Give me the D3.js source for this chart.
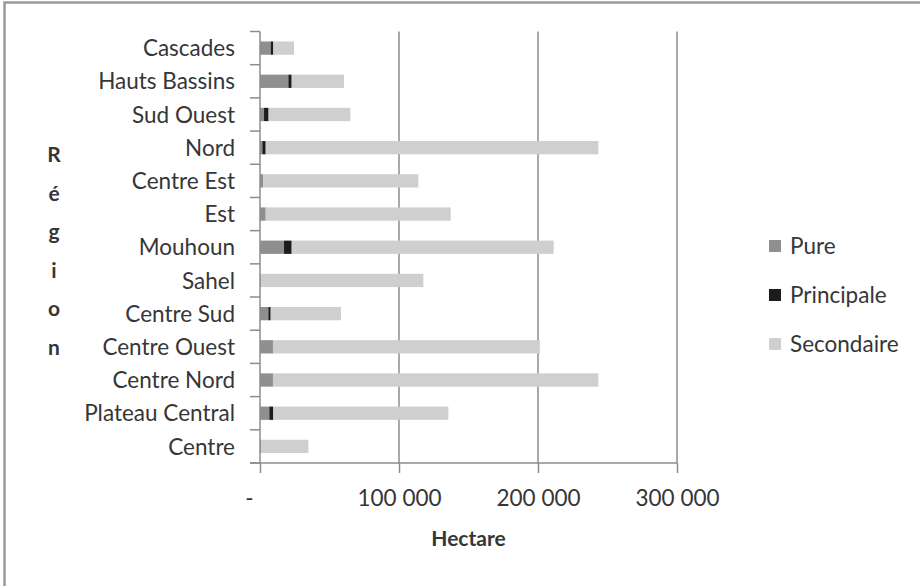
<!DOCTYPE html>
<html>
<head>
<meta charset="utf-8">
<script src="https://cdn.jsdelivr.net/npm/d3@7"></script>
<style>
  html, body { margin: 0; padding: 0; background: #fff; }
  svg { display: block; font-family: Lato, "Open Sans", sans-serif; }
</style>
</head>
<body>
<svg id="chart" width="920" height="586"></svg>
<script>
// Regions, listed top to bottom
const regions = ["Cascades", "Hauts Bassins", "Sud Ouest", "Nord", "Centre Est", "Est",
  "Mouhoun", "Sahel", "Centre Sud", "Centre Ouest", "Centre Nord", "Plateau Central", "Centre"];

// Area (ha) per cultivation type
const pure       = [7700, 20400, 2900, 1700, 2400, 4100, 17300, 500, 6000, 8900, 8900, 6700, 700];
const principale = [1900, 2400, 3300, 2400, 0, 0, 5500, 0, 1700, 300, 300, 2900, 0];
const secondaire = [14900, 37600, 58800, 239300, 111500, 133100, 188500, 117000, 50600, 192100, 234200, 125900, 34100];

const seriesNames = ["Pure", "Principale", "Secondaire"];
const seriesColors = ["#8f8f8f", "#1c1c1c", "#cfcfcf"];
const xTicks = [0, 100000, 200000, 300000];
const xTickLabels = ["-", "100 000", "200 000", "300 000"];

const rows = regions.map((r, i) => ({
  region: r, Pure: pure[i], Principale: principale[i], Secondaire: secondaire[i]
}));

const svg = d3.select("#chart");
const textColor = "#363636";
const gridColor = "#8c8c8c";
const fontSize = 22.5;

// outer frame (left and top edges)
svg.append("path")
  .attr("d", "M4.5,586 L4.5,2.5 L920,2.5")
  .attr("fill", "none").attr("stroke", "#9a9a9a").attr("stroke-width", 2.5);

const plot = { left: 260, right: 677, top: 31.5, bottom: 463 };

const x = d3.scaleLinear().domain([0, 300000]).range([plot.left, plot.right]);
const y = d3.scaleBand().domain(regions).range([plot.top, plot.bottom]).paddingInner(0.6).paddingOuter(0.3);
const yTicks = d3.scaleBand().domain(regions).range([plot.top, plot.bottom]);

// vertical gridlines
svg.append("g").selectAll("line")
  .data(xTicks.slice(1))
  .join("line")
  .attr("x1", d => x(d)).attr("x2", d => x(d))
  .attr("y1", plot.top).attr("y2", plot.bottom)
  .attr("stroke", gridColor).attr("stroke-width", 1.5);

// stacked bars
const stack = d3.stack().keys(seriesNames)(rows);
svg.append("g").selectAll("g")
  .data(stack)
  .join("g")
  .attr("fill", (d, i) => seriesColors[i])
  .selectAll("rect")
  .data(d => d)
  .join("rect")
  .attr("x", d => x(d[0]))
  .attr("width", d => Math.max(0, x(d[1]) - x(d[0])))
  .attr("y", d => y(d.data.region))
  .attr("height", y.bandwidth());

// y axis: line with category tick marks between bands
const yAxis = svg.append("g");
yAxis.append("line")
  .attr("x1", plot.left).attr("x2", plot.left)
  .attr("y1", plot.top).attr("y2", plot.bottom)
  .attr("stroke", gridColor).attr("stroke-width", 1.5);
const bounds = regions.map(r => yTicks(r)).concat([plot.bottom]);
yAxis.selectAll("line.tick")
  .data(bounds)
  .join("line")
  .attr("class", "tick")
  .attr("x1", plot.left - 10).attr("x2", plot.left)
  .attr("y1", d => d).attr("y2", d => d)
  .attr("stroke", gridColor).attr("stroke-width", 1.5);
yAxis.selectAll("text")
  .data(regions)
  .join("text")
  .attr("x", 235)
  .attr("y", d => yTicks(d) + yTicks.bandwidth() / 2)
  .attr("dy", "0.36em")
  .attr("text-anchor", "end")
  .attr("font-size", fontSize)
  .attr("fill", textColor)
  .text(d => d);

// x axis
const xAxis = svg.append("g").attr("transform", `translate(0,${plot.bottom})`)
  .call(d3.axisBottom(x).tickValues(xTicks).tickSize(10).tickSizeOuter(0)
    .tickFormat((d, i) => xTickLabels[i]));
xAxis.select(".domain").attr("d", `M${plot.left - 10},0H${plot.right}`)
  .attr("stroke", gridColor).attr("stroke-width", 1.5);
xAxis.selectAll(".tick line").attr("stroke", gridColor).attr("stroke-width", 1.5);
xAxis.selectAll(".tick text")
  .attr("font-size", fontSize).attr("font-family", "Lato, sans-serif")
  .attr("fill", textColor).attr("y", 27).attr("dy", "0.71em");
xAxis.selectAll(".tick text").filter((d, i) => i === 0).attr("dx", -11);

// axis titles
svg.append("text")
  .attr("x", (plot.left + plot.right) / 2).attr("y", 546)
  .attr("text-anchor", "middle")
  .attr("font-size", 21).attr("font-weight", "bold").attr("fill", textColor)
  .text("Hectare");

const yTitle = "Région".split("");
svg.append("g").selectAll("text")
  .data(yTitle)
  .join("text")
  .attr("x", 54)
  .attr("y", (d, i) => 162 + i * 38.6)
  .attr("text-anchor", "middle")
  .attr("font-size", 21).attr("font-weight", "bold").attr("fill", textColor)
  .text(d => d);

// legend
const legend = svg.append("g").selectAll("g")
  .data(seriesNames)
  .join("g")
  .attr("transform", (d, i) => `translate(769,${246 + i * 49})`);
legend.append("rect")
  .attr("x", 0).attr("y", -6).attr("width", 12).attr("height", 12)
  .attr("fill", (d, i) => seriesColors[i]);
legend.append("text")
  .attr("x", 21).attr("dy", "0.36em")
  .attr("font-size", fontSize).attr("fill", textColor)
  .text(d => d);
</script>
</body>
</html>
